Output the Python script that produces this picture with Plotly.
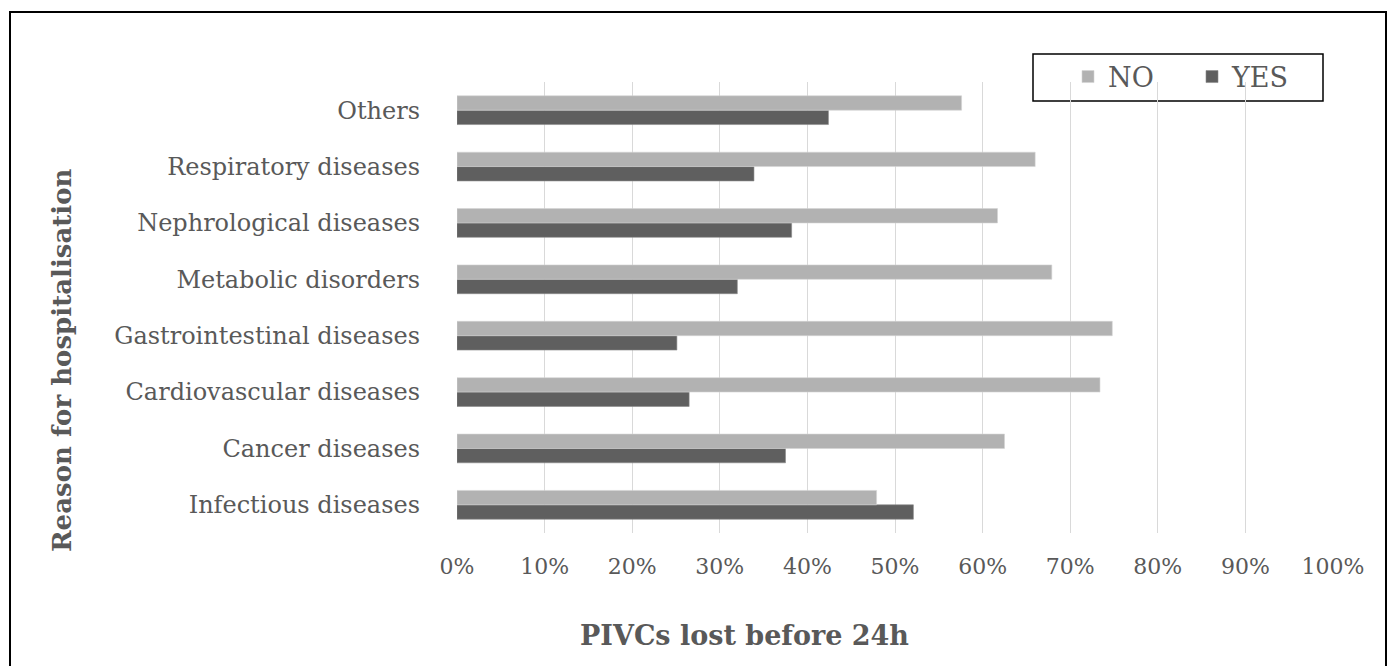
import plotly.graph_objects as go

# Reason for hospitalisation, listed top to bottom
categories = [
    "Others",
    "Respiratory diseases",
    "Nephrological diseases",
    "Metabolic disorders",
    "Gastrointestinal diseases",
    "Cardiovascular diseases",
    "Cancer diseases",
    "Infectious diseases",
]
# Share of PIVCs lost before 24h (percent)
no_values = [57.6, 66.0, 61.7, 67.9, 74.8, 73.4, 62.5, 47.9]
yes_values = [42.4, 33.9, 38.2, 32.0, 25.1, 26.5, 37.5, 52.1]
x_ticks = [0, 10, 20, 30, 40, 50, 60, 70, 80, 90, 100]
x_tick_text = [f"{t}%" for t in x_ticks]

FONT = "DejaVu Serif"
TEXT = "#595959"

# plot area in pixels (used to place the frame, legend box and titles)
L, R, T, B = 457, 1333, 82, 533
W, H = R - L, B - T


def px(x):
    return (x - L) / W


def py(y):
    return (B - y) / H


fig = go.Figure()
fig.add_trace(go.Bar(
    y=categories, x=yes_values, orientation="h", name="YES",
    marker=dict(color="#5f5f5f", line=dict(color="#8a8a8a", width=0.6)),
    legendrank=2,
))
fig.add_trace(go.Bar(
    y=categories, x=no_values, orientation="h", name="NO",
    marker=dict(color="#b2b2b2", line=dict(color="#d4d4d4", width=0.6)),
    legendrank=1,
))

fig.update_layout(
    width=1389, height=666,
    margin=dict(l=L, r=1389 - R, t=T, b=666 - B),
    paper_bgcolor="white", plot_bgcolor="white",
    barmode="group", bargap=0.49, bargroupgap=0,
    font=dict(family=FONT, color=TEXT),
    legend=dict(
        orientation="h", x=px(1068), y=py(77), xanchor="left", yanchor="middle",
        borderwidth=0, bgcolor="rgba(0,0,0,0)",
        font=dict(size=27, family=FONT, color=TEXT),
        entrywidth=79, itemwidth=30,
        traceorder="normal",
    ),
    xaxis=dict(
        range=[0, 100], tickvals=x_ticks, ticktext=x_tick_text,
        showgrid=True, gridcolor="#d9d9d9", gridwidth=1,
        zeroline=False, showline=False, ticks="",
        tickfont=dict(size=22, family=FONT, color=TEXT),
        ticklabelstandoff=18,
    ),
    yaxis=dict(
        categoryorder="array", categoryarray=categories[::-1],
        showgrid=False, zeroline=False, showline=False, ticks="",
        tickfont=dict(size=24, family=FONT, color=TEXT),
        ticklabelstandoff=36,
    ),
    showlegend=True,
)

# legend frame
fig.add_shape(
    type="rect", xref="paper", yref="paper",
    x0=px(1033), x1=px(1323), y0=py(101), y1=py(54),
    line=dict(color="black", width=1.5), fillcolor="white", layer="below",
)

# axis titles
fig.add_annotation(
    text="<b>PIVCs lost before 24h</b>", xref="paper", yref="paper",
    x=px(744), y=py(635), xanchor="center", yanchor="middle",
    showarrow=False, font=dict(size=27, family=FONT, color=TEXT),
)
fig.add_annotation(
    text="<b>Reason for hospitalisation</b>", xref="paper", yref="paper",
    x=px(62), y=py(361), xanchor="center", yanchor="middle",
    textangle=-90, showarrow=False, font=dict(size=26, family=FONT, color=TEXT),
)

# outer frame around the whole figure
fig.add_shape(
    type="rect", xref="paper", yref="paper",
    x0=px(10), x1=px(1386), y0=py(700), y1=py(12),
    line=dict(color="black", width=2), fillcolor="rgba(0,0,0,0)", layer="above",
)

fig.write_html("out.html")
